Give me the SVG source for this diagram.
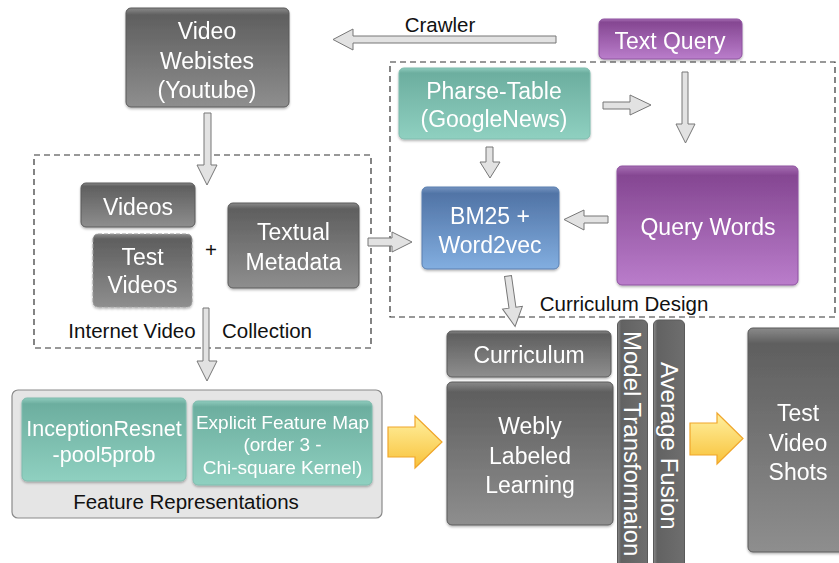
<svg xmlns="http://www.w3.org/2000/svg" width="839" height="563" viewBox="0 0 839 563">
<defs>
<linearGradient id="gGray" x1="0" y1="0" x2="0" y2="1">
<stop offset="0" stop-color="#8a8a8a"/><stop offset="0.07" stop-color="#5f5f5f"/><stop offset="1" stop-color="#8e8e8e"/>
</linearGradient>
<linearGradient id="gGrayH" x1="0" y1="0" x2="1" y2="0">
<stop offset="0" stop-color="#8a8a8a"/><stop offset="0.12" stop-color="#626262"/><stop offset="1" stop-color="#6e6e6e"/>
</linearGradient>
<linearGradient id="gTeal" x1="0" y1="0" x2="0" y2="1">
<stop offset="0" stop-color="#8fcbbd"/><stop offset="0.07" stop-color="#6cae9f"/><stop offset="1" stop-color="#8fd0c0"/>
</linearGradient>
<linearGradient id="gPurple" x1="0" y1="0" x2="0" y2="1">
<stop offset="0" stop-color="#a66db3"/><stop offset="0.08" stop-color="#854792"/><stop offset="1" stop-color="#ba7dcb"/>
</linearGradient>
<linearGradient id="gBlue" x1="0" y1="0" x2="0" y2="1">
<stop offset="0" stop-color="#7594c0"/><stop offset="0.08" stop-color="#5174a6"/><stop offset="1" stop-color="#82aee0"/>
</linearGradient>
<linearGradient id="gYellow" x1="0" y1="0" x2="0" y2="1">
<stop offset="0" stop-color="#fff0a0"/><stop offset="1" stop-color="#f8c23a"/>
</linearGradient>
<filter id="sh" x="-10%" y="-10%" width="120%" height="130%">
<feDropShadow dx="0" dy="1.5" stdDeviation="1.2" flood-color="#000" flood-opacity="0.3"/>
</filter>
</defs>
<style>
.gray{fill:url(#gGray);stroke:#5a5a5a;stroke-width:1}
.grayv{fill:url(#gGrayH);stroke:#5a5a5a;stroke-width:1}
.teal{fill:url(#gTeal);stroke:#7fbcae;stroke-width:1}
.purple{fill:url(#gPurple);stroke:#8e52a0;stroke-width:1}
.blue{fill:url(#gBlue);stroke:#5a7fb0;stroke-width:1}
.t{font-family:"Liberation Sans",Arial,sans-serif;fill:#fff;text-anchor:middle;dominant-baseline:central;font-size:23px}
.tv{font-family:"Liberation Sans",Arial,sans-serif;fill:#fff;text-anchor:start;dominant-baseline:central;font-size:24px}
.t21{font-size:21.5px}
.t19{font-size:19px}
.lbl{font-family:"Liberation Sans",Arial,sans-serif;fill:#111;text-anchor:middle;dominant-baseline:central;font-size:20.5px}
.dash{fill:none;stroke:#333;stroke-width:1.2;stroke-dasharray:6 4}
.hollow{fill:#e2e2e2;stroke:#777;stroke-width:1}
.yel{fill:url(#gYellow);stroke:#f0a62a;stroke-width:1.2}
</style>

<g id="containers">
<rect id="internet-video-collection" class="dash" x="34" y="155" width="337" height="193"/>
<rect id="curriculum-design" class="dash" x="390" y="62" width="445" height="255"/>
<text class="lbl" x="132" y="330">Internet Video</text>
<text class="lbl" x="267" y="330">Collection</text>
<text class="lbl" x="624" y="303">Curriculum Design</text>
</g>

<g id="feature-representations">
<rect x="12" y="390" width="370" height="128" rx="6" fill="#e5e5e5" stroke="#8a8a8a" stroke-width="1.2"/>
<text class="lbl" x="186" y="501">Feature Representations</text>
</g>

<g id="connectors">
<polygon class="hollow" points="556,36 353,36 353,29 333,39.5 353,50 353,43 556,43"/>
<text class="lbl" x="440" y="24">Crawler</text>
<polygon class="hollow" points="204,113 211,113 211,165 217,165 207,185 197,165 204,165"/>
<polygon class="hollow" points="603,102 630,102 630,95 651,105 630,115 630,109 603,109"/>
<polygon class="hollow" points="682,72 688,72 688,124 695,124 685.5,143 676,124 682,124"/>
<polygon class="hollow" points="486,147 493,147 493,162 500,162 490,178 480,162 486,162"/>
<polygon class="hollow" points="608,216 584,216 584,210 564,219.5 584,230 584,223 608,223"/>
<polygon class="hollow" points="368,238 392,238 392,232 412,242 392,252 392,246 368,246"/>
<polygon class="hollow" transform="rotate(-8 508 276)" points="504.5,276 511.5,276 511.5,308 518,308 508,327 498,308 504.5,308"/>
<polygon class="hollow" points="203,308 209,308 209,361 217,361 207,381 197,361 203,361"/>
<polygon class="yel" points="388,427 415,427 415,416 442,442 415,468 415,457 388,457"/>
<polygon class="yel" points="690,423 717,423 717,413 743,438.5 717,464 717,455 690,455"/>
</g>

<g id="video-websites" filter="url(#sh)">
<rect class="gray" x="126" y="8" width="163" height="99" rx="5"/>
<text class="t" x="207" y="31">Video</text>
<text class="t" x="207" y="61">Webistes</text>
<text class="t" x="207" y="90">(Youtube)</text>
</g>

<g id="text-query" filter="url(#sh)">
<rect class="purple" x="599" y="19" width="143" height="40" rx="5"/>
<text class="t" x="670" y="41">Text Query</text>
</g>

<g id="phrase-table" filter="url(#sh)">
<rect class="teal" x="399" y="68" width="191" height="71" rx="5"/>
<text class="t" x="494" y="91">Pharse-Table</text>
<text class="t" x="494" y="119">(GoogleNews)</text>
</g>

<g id="bm25" filter="url(#sh)">
<rect class="blue" x="422" y="187" width="137" height="82" rx="5"/>
<text class="t" x="490" y="216">BM25 +</text>
<text class="t" x="490" y="245">Word2vec</text>
</g>

<g id="query-words" filter="url(#sh)">
<rect class="purple" x="617" y="166" width="181" height="119" rx="5"/>
<text class="t" x="708" y="227">Query Words</text>
</g>

<g id="videos" filter="url(#sh)">
<rect class="gray" x="81" y="183" width="114" height="44" rx="5"/>
<text class="t" x="138" y="207">Videos</text>
</g>

<g id="test-videos" filter="url(#sh)">
<rect class="gray" x="93" y="234" width="99" height="73" rx="5" style="stroke:#9a9a9a;stroke-dasharray:4 2"/>
<text class="t" x="142.5" y="257">Test</text>
<text class="t" x="142.5" y="285">Videos</text>
</g>

<g id="plus">
<text class="lbl" x="211" y="249">+</text>
</g>

<g id="textual-metadata" filter="url(#sh)">
<rect class="gray" x="228" y="203" width="131" height="85" rx="5"/>
<text class="t" x="293.5" y="232">Textual</text>
<text class="t" x="293.5" y="262">Metadata</text>
</g>

<g id="inception" filter="url(#sh)">
<rect class="teal" x="22" y="398" width="164" height="83" rx="5"/>
<text class="t t21" x="104" y="429">InceptionResnet</text>
<text class="t t21" x="104" y="455">-pool5prob</text>
</g>

<g id="explicit-feature-map" filter="url(#sh)">
<rect class="teal" x="193" y="401" width="179" height="84" rx="5"/>
<text class="t t19" x="282.5" y="422">Explicit Feature Map</text>
<text class="t t19" x="282.5" y="444">(order 3 -</text>
<text class="t t19" x="282.5" y="467">Chi-square Kernel)</text>
</g>

<g id="curriculum" filter="url(#sh)">
<rect class="gray" x="447" y="331" width="164" height="46" rx="5"/>
<text class="t" x="529" y="355">Curriculum</text>
</g>

<g id="webly" filter="url(#sh)">
<rect class="gray" x="447" y="382" width="166" height="143" rx="5"/>
<text class="t" x="530" y="426">Webly</text>
<text class="t" x="530" y="456">Labeled</text>
<text class="t" x="530" y="485">Learning</text>
</g>

<g id="model-transformation">
<rect class="grayv" x="617.5" y="320" width="30" height="250" rx="5"/>
<text class="tv" x="0" y="0" transform="translate(632 331) rotate(90)">Model Transformaion</text>
</g>

<g id="average-fusion">
<rect class="grayv" x="653.5" y="320" width="31" height="250" rx="5"/>
<text class="tv" x="0" y="0" transform="translate(669 362) rotate(90)">Average Fusion</text>
</g>

<g id="test-video-shots" filter="url(#sh)">
<rect class="gray" x="748" y="328" width="100" height="224" rx="5"/>
<text class="t" x="798" y="413">Test</text>
<text class="t" x="798" y="443">Video</text>
<text class="t" x="798" y="472">Shots</text>
</g>
</svg>
